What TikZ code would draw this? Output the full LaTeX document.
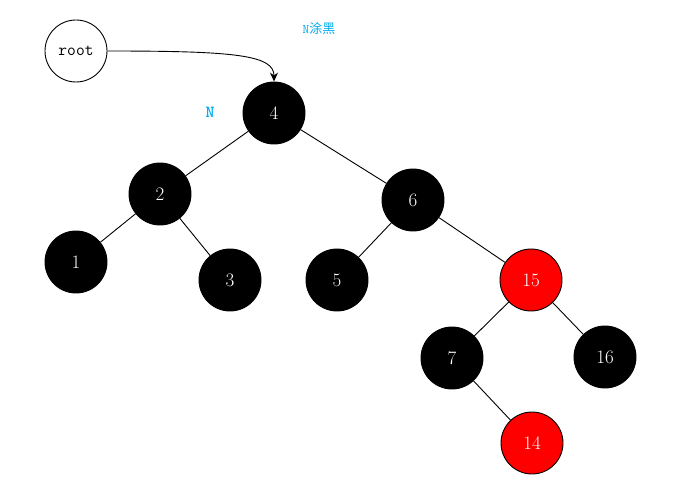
\documentclass[tikz,border=0pt]{standalone}
\usepackage{fontspec}
\newfontfamily\cjk{Noto Sans CJK SC}
\usetikzlibrary{positioning,arrows.meta}
\definecolor{notecyan}{RGB}{0,172,238}
\begin{document}
\begin{tikzpicture}
                    [x=1pt, y=-1pt,
                    rootnd/.style={circle, draw=black, fill=white,
                        minimum size=62pt, inner sep=0pt,
                        font=\fontsize{17}{19}\selectfont\ttfamily},
                    blk/.style={circle, draw=black, fill=black,
                        text=white, minimum size=62pt, inner sep=0pt,
                        font=\fontsize{19}{21}\selectfont},
                    rd/.style={blk, fill=red},
                    note/.style={text=notecyan, inner sep=0pt},
                    line width=0.9pt]

                    \useasboundingbox (0,0) rectangle (699,486);

                    \node[rootnd] (root) at (76,51) {root};
                    \node[blk] (n4)  at (274,113) {4};
                    \node[blk] (n2)  at (160,194) {2};
                    \node[blk] (n6)  at (413,200) {6};
                    \node[blk] (n1)  at (76,262)  {1};
                    \node[blk] (n3)  at (230,280) {3};
                    \node[blk] (n5)  at (337,280) {5};
                    \node[rd]  (n15) at (531,280) {15};
                    \node[blk] (n7)  at (452,358) {7};
                    \node[blk] (n16) at (605,357) {16};
                    \node[rd]  (n14) at (532,443) {14};

                    \node[note, font=\fontsize{13}{15}\selectfont]
                        (paint) at (319,29) {\texttt{N}\cjk 涂黑};
                    \node[note, font=\fontsize{17}{19}\selectfont\ttfamily\bfseries]
                        (nlab) at (210,112) {N};

                    \draw[-{Stealth[length=9pt,width=8pt]}]
                        (root.east) .. controls (235,51) and (274,55) .. (n4.north);

                    \path
                        (n4)  edge (n2)
                        (n4)  edge (n6)
                        (n2)  edge (n1)
                        (n2)  edge (n3)
                        (n6)  edge (n5)
                        (n6)  edge (n15)
                        (n15) edge (n7)
                        (n15) edge (n16)
                        (n7)  edge (n14);
                \end{tikzpicture}
\end{document}
